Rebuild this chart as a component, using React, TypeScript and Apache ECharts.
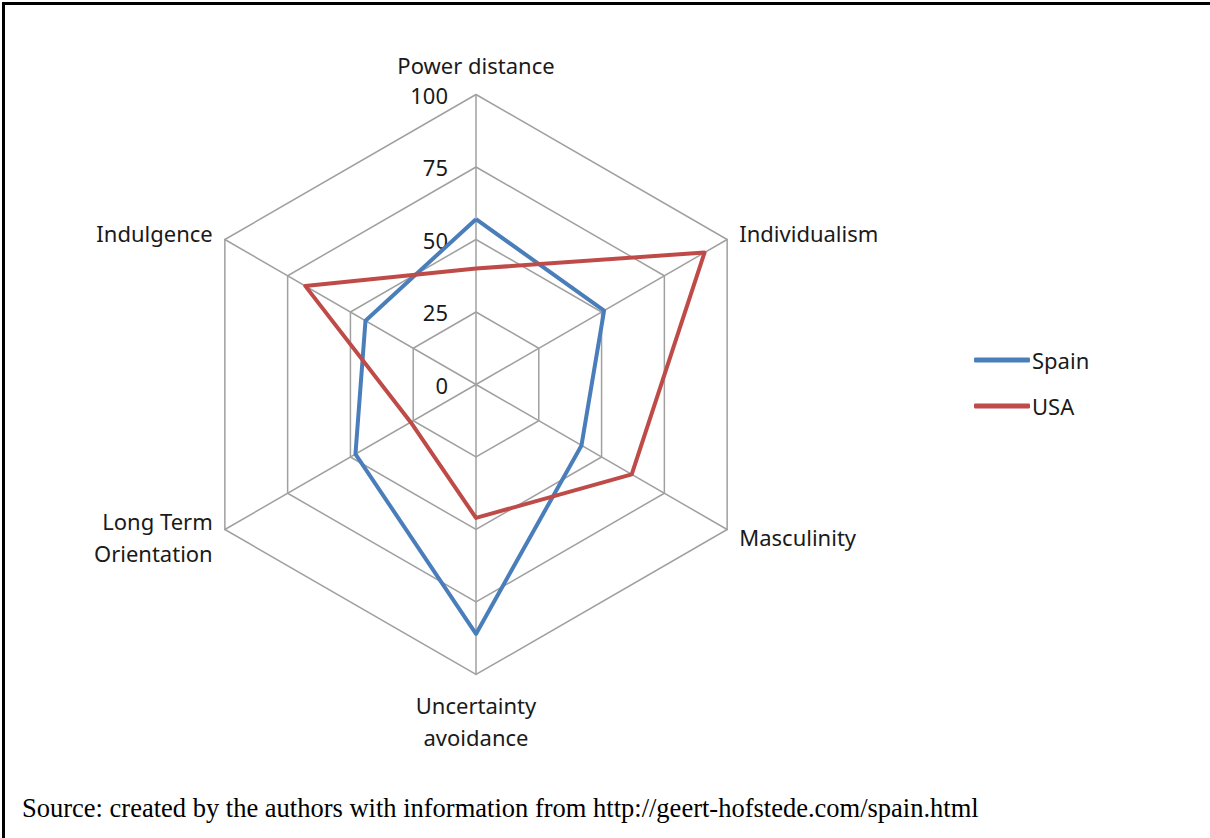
import React, { useEffect, useRef } from "react";
import * as echarts from "echarts";

const categories = [
  "Power distance",
  "Individualism",
  "Masculinity",
  "Uncertainty\navoidance",
  "Long Term\nOrientation",
  "Indulgence",
];
const spainValues = [57, 51, 42, 86, 48, 44];
const usaValues = [40, 91, 62, 46, 26, 68];
const seriesNames = ["Spain", "USA"];
const tickLabels = [0, 25, 50, 75, 100];
const sourceText =
  "Source: created by the authors with information from http://geert-hofstede.com/spain.html";

// ECharts lays radar indicators counter-clockwise; Excel goes clockwise.
const order = [0, 5, 4, 3, 2, 1];

export default function App() {
  const ref = useRef<HTMLDivElement>(null);
  useEffect(() => {
    document.body.style.margin = "0";
    const chart = echarts.init(ref.current!, null, { renderer: "svg" });
    const font = "Noto Sans";
    const center = [476, 384.5];
    const radius = 290;
    chart.setOption({
      animation: false,
      backgroundColor: "#ffffff",
      legend: {
        orient: "vertical",
        left: 969,
        top: 344,
        itemWidth: 56,
        itemHeight: 5,
        itemGap: 24,
        icon: "roundRect",
        data: seriesNames,
        textStyle: { fontFamily: font, fontSize: 22, color: "#1a1a1a", padding: [0, 0, 0, -3] },
      },
      radar: {
        center,
        radius,
        startAngle: 90,
        splitNumber: 4,
        shape: "polygon",
        nameGap: 14,
        indicator: order.map((i) => ({ name: categories[i], min: 0, max: 100 })),
        axisName: {
          fontFamily: font,
          fontSize: 22,
          color: "#1a1a1a",
          lineHeight: 32,
        },
        axisLine: { lineStyle: { color: "#a0a0a0", width: 1.5 } },
        splitLine: { lineStyle: { color: "#a0a0a0", width: 1.5 } },
        splitArea: { show: false },
        axisLabel: { show: false },
      },
      polar: { center, radius },
      angleAxis: {
        type: "value",
        startAngle: 90,
        show: false,
        min: 0,
        max: 360,
      },
      radiusAxis: {
        type: "value",
        min: tickLabels[0],
        max: tickLabels[tickLabels.length - 1],
        interval: tickLabels[1] - tickLabels[0],
        axisLine: { show: false },
        axisTick: { show: false },
        splitLine: { show: false },
        axisLabel: {
          show: true,
          fontFamily: font,
          fontSize: 22,
          color: "#1a1a1a",
          margin: 28,
          rotate: 0,
          verticalAlign: "middle",
        },
      },
      series: [
        {
          type: "radar",
          symbol: "none",
          data: [
            {
              name: seriesNames[0],
              value: order.map((i) => spainValues[i]),
              lineStyle: { color: "#4A7EBB", width: 4 },
              itemStyle: { color: "#4A7EBB" },
            },
            {
              name: seriesNames[1],
              value: order.map((i) => usaValues[i]),
              lineStyle: { color: "#BE4B48", width: 4 },
              itemStyle: { color: "#BE4B48" },
            },
          ],
        },
      ],
      graphic: [
        { type: "rect", shape: { x: 2, y: 2, width: 1208, height: 3 }, style: { fill: "#000" } },
        { type: "rect", shape: { x: 2, y: 2, width: 3, height: 836 }, style: { fill: "#000" } },
        {
          type: "text",
          left: 22,
          top: 794,
          style: {
            text: sourceText,
            fontFamily: "Liberation Serif",
            fontSize: 26.5,
            fill: "#000",
          },
        },
      ],
    });
    return () => chart.dispose();
  }, []);
  return (
    <div
      ref={ref}
      style={{ position: "absolute", left: 0, top: 0, width: 1210, height: 838 }}
    />
  );
}
